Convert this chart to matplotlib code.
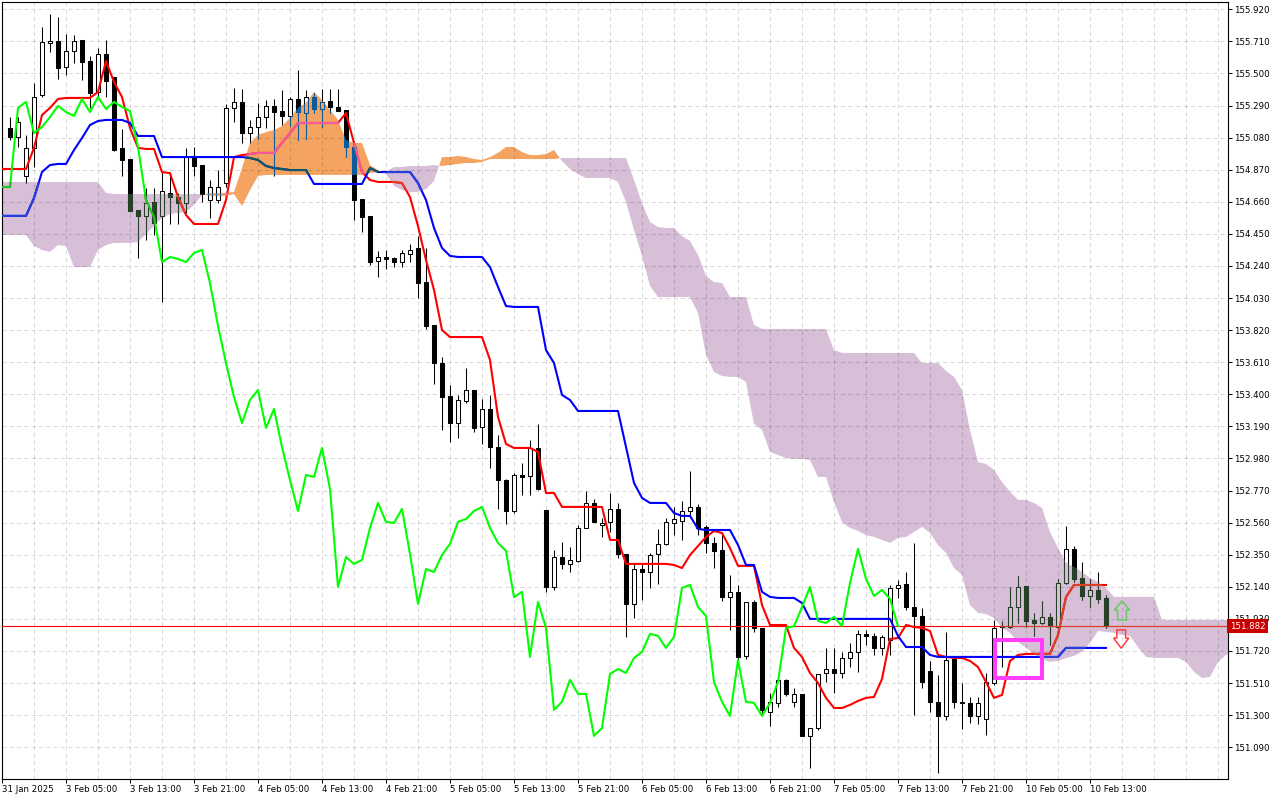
import numpy as np
import matplotlib
matplotlib.use("Agg")
import matplotlib.pyplot as plt
import matplotlib.colors as mcolors
from matplotlib.path import Path
from matplotlib.patches import Polygon, Rectangle
from matplotlib.transforms import blended_transform_factory

# H1 candles, bar 1 = 31 Jan 22:00 ... bar 138 = 10 Feb 15:00
open_ = [155.144, 155.084, 154.829, 155.013, 155.359, 155.699, 155.712, 155.542, 155.647, 155.719,
         155.581, 155.379, 155.628, 155.477, 155.013, 154.940, 154.607, 154.568, 154.659, 154.568,
         154.717, 154.691, 154.652, 154.960, 154.901, 154.672, 154.672, 154.783, 155.275, 155.314,
         155.110, 155.150, 155.215, 155.288, 155.254, 155.222, 155.333, 155.241, 155.346, 155.268,
         155.320, 155.281, 155.261, 155.019, 154.678, 154.568, 154.272, 154.299, 154.293, 154.266,
         154.319, 154.358, 154.135, 153.854, 153.605, 153.389, 153.212, 153.356, 153.428, 153.187,
         153.304, 153.055, 152.839, 152.636, 152.872, 152.865, 153.049, 152.643, 152.139, 152.335,
         152.290, 152.309, 152.526, 152.689, 152.545, 152.565, 152.650, 152.355, 152.028, 152.257,
         152.237, 152.355, 152.421, 152.558, 152.571, 152.636, 152.663, 152.532, 152.427, 152.381,
         152.073, 152.107, 151.688, 152.041, 151.871, 151.321, 151.380, 151.531, 151.387, 151.439,
         151.164, 151.216, 151.576, 151.602, 151.576, 151.674, 151.714, 151.832, 151.819, 151.740,
         151.792, 152.133, 152.159, 152.008, 151.949, 151.589, 151.387, 151.295, 151.668, 151.387,
         151.380, 151.295, 151.275, 151.511, 151.877, 151.877, 152.008, 152.146, 151.923, 151.903,
         151.943, 151.877, 152.165, 152.388, 152.198, 152.080, 152.120, 152.067]
high = [155.215, 155.215, 155.097, 155.437, 155.804, 155.890, 155.870, 155.759, 155.752, 155.719,
        155.615, 155.667, 155.719, 155.477, 155.137, 154.940, 154.607, 154.751, 154.751, 154.855,
        154.848, 154.717, 155.013, 155.019, 154.901, 154.803, 154.868, 155.301, 155.405, 155.398,
        155.196, 155.307, 155.327, 155.333, 155.392, 155.346, 155.523, 155.392, 155.372, 155.398,
        155.398, 155.398, 155.261, 155.019, 154.678, 154.568, 154.338, 154.345, 154.299, 154.345,
        154.384, 154.437, 154.358, 153.854, 153.644, 153.461, 153.395, 153.573, 153.428, 153.369,
        153.395, 153.134, 152.846, 152.885, 152.950, 153.101, 153.206, 152.643, 152.381, 152.434,
        152.401, 152.545, 152.767, 152.715, 152.591, 152.754, 152.689, 152.355, 152.296, 152.296,
        152.361, 152.519, 152.591, 152.663, 152.702, 152.898, 152.682, 152.545, 152.466, 152.499,
        152.218, 152.152, 152.041, 152.054, 151.871, 151.445, 151.531, 151.537, 151.478, 151.439,
        151.216, 151.570, 151.740, 151.740, 151.714, 151.773, 151.858, 151.858, 151.838, 151.825,
        152.152, 152.185, 152.237, 152.427, 152.002, 151.655, 151.563, 151.845, 151.668, 151.511,
        151.419, 151.419, 151.576, 151.923, 151.917, 152.139, 152.211, 152.146, 151.969, 152.047,
        151.969, 152.192, 152.538, 152.407, 152.303, 152.192, 152.237, 152.087]
low = [155.065, 155.019, 154.783, 154.888, 155.346, 155.641, 155.464, 155.490, 155.568, 155.457,
       155.275, 155.346, 155.346, 154.992, 154.829, 154.600, 154.293, 154.410, 154.443, 154.005,
       154.515, 154.515, 154.587, 154.829, 154.659, 154.555, 154.652, 154.757, 155.183, 155.045,
       155.045, 155.071, 155.144, 154.829, 155.163, 155.157, 155.065, 155.071, 155.241, 155.150,
       155.241, 155.254, 154.953, 154.541, 154.463, 154.246, 154.168, 154.220, 154.233, 154.233,
       154.266, 154.031, 153.828, 153.468, 153.167, 153.088, 153.115, 153.343, 153.154, 153.075,
       152.918, 152.650, 152.552, 152.623, 152.741, 152.741, 152.774, 152.107, 152.120, 152.257,
       152.237, 152.303, 152.526, 152.565, 152.466, 152.499, 152.329, 151.812, 151.937, 152.054,
       152.133, 152.159, 152.414, 152.479, 152.447, 152.597, 152.479, 152.361, 152.263, 152.047,
       151.858, 151.655, 151.668, 151.845, 151.301, 151.229, 151.354, 151.426, 151.354, 151.164,
       150.954, 151.203, 151.517, 151.446, 151.543, 151.615, 151.583, 151.760, 151.694, 151.694,
       151.694, 152.067, 151.989, 151.301, 151.478, 151.321, 150.922, 151.269, 151.347, 151.210,
       151.249, 151.242, 151.170, 151.498, 151.615, 151.871, 151.903, 151.877, 151.818, 151.897,
       151.759, 151.871, 152.159, 152.172, 152.054, 152.008, 152.034, 151.871]
close = [155.084, 155.183, 155.013, 155.346, 155.706, 155.712, 155.536, 155.647, 155.712, 155.575,
         155.372, 155.628, 155.450, 154.999, 154.934, 154.600, 154.568, 154.652, 154.521, 154.730,
         154.691, 154.652, 154.953, 154.895, 154.711, 154.757, 154.757, 155.275, 155.314, 155.110,
         155.150, 155.215, 155.288, 155.248, 155.222, 155.333, 155.248, 155.346, 155.268, 155.314,
         155.281, 155.254, 155.019, 154.672, 154.561, 154.266, 154.299, 154.286, 154.266, 154.325,
         154.345, 154.128, 153.848, 153.605, 153.382, 153.212, 153.363, 153.428, 153.180, 153.304,
         153.055, 152.839, 152.636, 152.872, 152.859, 153.049, 152.780, 152.139, 152.335, 152.290,
         152.316, 152.526, 152.689, 152.565, 152.558, 152.650, 152.355, 152.028, 152.257, 152.237,
         152.348, 152.421, 152.565, 152.584, 152.636, 152.663, 152.526, 152.427, 152.375, 152.073,
         152.107, 151.681, 152.041, 151.871, 151.334, 151.387, 151.531, 151.439, 151.439, 151.164,
         151.216, 151.570, 151.602, 151.576, 151.674, 151.714, 151.832, 151.819, 151.740, 151.812,
         152.133, 152.152, 152.008, 151.949, 151.517, 151.387, 151.295, 151.661, 151.387, 151.380,
         151.295, 151.380, 151.517, 151.871, 151.882, 152.008, 152.139, 151.917, 151.903, 151.943,
         151.884, 152.165, 152.388, 152.192, 152.080, 152.120, 152.061, 151.882]

# ichimoku lines, bar 0 .. 138
tenkan = ([154.875] * 4 + [155.013, 155.228, 155.275, 155.333] + [155.340] * 4
          + [155.379, 155.581, 155.444, 155.346, 155.144, 155.013, 155.006, 155.006, 154.855, 154.848,
             154.691, 154.574] + [154.515] * 4
          + [154.672, 154.953, 154.966, 154.973] + [154.980] * 3 + [155.045, 155.110] + [155.176] * 6
          + [155.241, 155.045, 154.855, 154.803] + [154.790] * 3
          + [154.783, 154.691, 154.502, 154.279, 154.083, 153.821] + [153.775] * 5
          + [153.625, 153.252, 153.075] + [153.049] * 3 + [153.023] + [152.754] * 2 + [152.663] * 6
          + [152.447] * 2 + [152.290] * 6
          + [152.283, 152.263, 152.348, 152.407, 152.466, 152.506, 152.492, 152.394] + [152.277] * 3
          + [152.021] + [151.890] * 3
          + [151.740, 151.681, 151.576, 151.511, 151.413, 151.347, 151.347, 151.367, 151.393, 151.413,
             151.419, 151.537, 151.799, 151.805, 151.890, 151.877, 151.871, 151.851, 151.694, 151.681,
             151.674, 151.674, 151.655, 151.615, 151.517, 151.413, 151.432, 151.655, 151.694]
          + [151.701] * 4 + [151.825, 152.073] + [152.152] * 5)
kijun = ([154.568] * 4 + [154.685, 154.855, 154.901, 154.908, 154.908, 154.999, 155.078, 155.163, 155.189]
         + [155.196] * 3 + [155.176] + [155.091] * 3 + [154.953] * 11
         + [154.947, 154.934, 154.895, 154.881, 154.875] + [154.868] * 3 + [154.777] * 7
         + [154.881] + [154.855] * 5 + [154.783, 154.672, 154.489, 154.358, 154.306] + [154.299] * 4
         + [154.233, 154.103, 153.978] + [153.972] * 4 + [153.690, 153.605, 153.396, 153.363]
         + [153.291] * 6 + [153.055, 152.820, 152.722] + [152.689] * 3 + [152.623] + [152.604] * 2
         + [152.519] + [152.512] * 4 + [152.414] + [152.283] * 2 + [152.107, 152.074] + [152.067] * 3
         + [152.034] + [151.930] * 11 + [151.818] + [151.746] * 3 + [151.694] + [151.681] * 16
         + [151.740] * 6)

# cloud, bar 0 .. 154 (shifted 26 bars ahead)
span_a = ([154.443] * 4 + [154.371, 154.345, 154.332, 154.377, 154.371] + [154.233] * 3
          + [154.345, 154.377] + [154.391] * 3
          + [154.397, 154.449, 154.502, 154.555, 154.580, 154.587, 154.593, 154.639, 154.705]
          + [154.718] * 3
          + [154.724, 154.881, 155.045, 155.097, 155.117, 155.130, 155.156, 155.209, 155.275, 155.307,
             155.379, 155.327, 155.261, 155.196, 155.065, 155.045, 155.045, 154.901, 154.868, 154.842,
             154.764, 154.737, 154.724, 154.724, 154.744, 154.796, 154.953, 154.953, 154.960, 154.953,
             154.940, 154.934, 154.953, 154.980, 155.019, 155.019, 154.986, 154.966, 154.966, 154.973,
             154.999, 154.927, 154.875, 154.842] + [154.816] * 4
          + [154.790, 154.659, 154.476, 154.306, 154.109] + [154.037] * 5
          + [153.932, 153.658, 153.546, 153.520, 153.514, 153.514, 153.481, 153.206, 153.167, 153.023,
             153.003, 152.983, 152.977, 152.977, 152.970, 152.859, 152.859, 152.695, 152.565, 152.525,
             152.506, 152.479, 152.466, 152.447, 152.427, 152.460, 152.466, 152.499, 152.532, 152.493,
             152.414, 152.362, 152.263, 152.218, 152.021, 151.969, 151.962, 151.936, 151.871, 151.838,
             151.779, 151.740, 151.701, 151.668, 151.648, 151.655, 151.674, 151.688, 151.714, 151.773,
             151.851, 151.845, 151.838, 151.825, 151.818, 151.746, 151.681] + [151.674] * 4
          + [151.648, 151.583, 151.543, 151.550, 151.648, 151.694, 151.714])
span_b = ([154.790] * 13 + [154.718] + [154.711] * 12 + [154.698] * 3
          + [154.711, 154.633, 154.737, 154.829] + [154.836] * 13
          + [154.849, 154.855, 154.855, 154.888, 154.888, 154.895, 154.895, 154.895, 154.901, 154.895,
             154.901, 154.908, 154.914, 154.914, 154.921] + [154.940] * 9 + [154.947] * 9
          + [154.803, 154.652, 154.528, 154.495, 154.489, 154.489, 154.436, 154.404, 154.312, 154.175,
             154.135, 154.129] + [154.037] * 3 + [153.854] + [153.828] * 9 + [153.690] + [153.671] * 10
          + [153.605] * 3
          + [153.553, 153.514, 153.428, 153.167, 152.957, 152.944, 152.905, 152.826, 152.761, 152.709,
             152.709, 152.689, 152.656, 152.499, 152.394, 152.296, 152.270, 152.237, 152.198, 152.172,
             152.133] + [152.074] * 6 + [151.923] * 10)

time_labels = ["31 Jan 2025", "3 Feb 05:00", "3 Feb 13:00", "3 Feb 21:00", "4 Feb 05:00",
               "4 Feb 13:00", "4 Feb 21:00", "5 Feb 05:00", "5 Feb 13:00", "5 Feb 21:00",
               "6 Feb 05:00", "6 Feb 13:00", "6 Feb 21:00", "7 Feb 05:00", "7 Feb 13:00",
               "7 Feb 21:00", "10 Feb 05:00", "10 Feb 13:00"]
price_ticks = [151.090 + 0.21 * k for k in range(24)]
last_price = 151.882

# marks drawn by hand on the chart
box_bars = (124.1, 130.05)
box_prices = (151.543, 151.792)
arrow_bar = 140.0
up_arrow = (151.923, 151.988, 152.047)     # bottom, head base, tip
down_arrow = (151.858, 151.805, 151.738)   # top, head base, tip

THISTLE = "#d8bfd8"
SANDY = "#f4a460"

o = np.array(open_)
h = np.array(high)
l = np.array(low)
c = np.array(close)
bars = np.arange(1, len(c) + 1)
line_x = np.arange(len(tenkan))
cloud_x = np.arange(len(span_a))
sa = np.array(span_a)
sb = np.array(span_b)


def xnor(col, bg):
    a = np.rint(np.array(mcolors.to_rgb(col)) * 255).astype(int)
    b = np.rint(np.array(mcolors.to_rgb(bg)) * 255).astype(int)
    return tuple((255 - (a ^ b)) / 255)


fig = plt.figure(figsize=(12.8, 8), dpi=100)
ax = fig.add_axes([2 / 1280, 21 / 800, 1226 / 1280, 777 / 800])
ax.set_xlim(0, 153.25)
ax.set_ylim(150.882, 155.968)

# cloud
up_cloud = ax.fill_between(cloud_x, sa, sb, where=sa >= sb, interpolate=True,
                           color=SANDY, lw=0, zorder=1)
dn_cloud = ax.fill_between(cloud_x, sa, sb, where=sb > sa, interpolate=True,
                           color=THISTLE, lw=0, zorder=1)


def draw_layer(paint, clip=None, z=3):
    arts = []
    up = c >= o
    arts.append(ax.vlines(bars, np.minimum(l, np.minimum(o, c)), np.maximum(h, np.maximum(o, c)),
                          colors=[paint("black")], lw=0.75, zorder=z))
    bottom = np.minimum(o, c)
    height = np.maximum(np.abs(c - o), 0.003)
    faces = [paint("white") if u else paint("black") for u in up]
    body = ax.bar(bars, height, 0.5, bottom=bottom, color=faces, edgecolor=paint("black"),
                  linewidth=0.75, zorder=z + 0.1)
    arts.extend(body.patches)
    arts.append(ax.axhline(last_price, color=paint("#ff0000"), lw=0.8, zorder=z + 0.2))
    arts += ax.plot(line_x, tenkan, color=paint("#ff0000"), lw=1.5, zorder=z + 0.3)
    arts += ax.plot(line_x, kijun, color=paint("#0000ff"), lw=1.5, zorder=z + 0.4)
    arts += ax.plot(bars[25:] - 26, c[25:], color=paint("#00ff00"), lw=1.5, zorder=z + 0.5)
    if clip is not None:
        for a in arts:
            a.set_clip_path(clip, ax.transData)


draw_layer(lambda col: col)
for cloud, col in [(up_cloud, SANDY), (dn_cloud, THISTLE)]:
    paths = cloud.get_paths()
    if paths:
        draw_layer(lambda cc, bg=col: xnor(cc, bg), Path.make_compound_path(*paths), z=6)

# magenta box and signal arrows
ax.add_patch(Rectangle((box_bars[0], box_prices[0]), box_bars[1] - box_bars[0],
                       box_prices[1] - box_prices[0], fill=False, ec="#ff3cff", lw=2.9, zorder=9))
xa = arrow_bar
ua = [(xa, up_arrow[2]), (xa + 0.95, up_arrow[1]), (xa + 0.55, up_arrow[1]), (xa + 0.55, up_arrow[0]),
      (xa - 0.55, up_arrow[0]), (xa - 0.55, up_arrow[1]), (xa - 0.95, up_arrow[1])]
ax.add_patch(Polygon(ua, closed=True, fill=False, ec="#5fcf5f", lw=1.1, zorder=9))
xd = arrow_bar - 0.1
da = [(xd - 0.55, down_arrow[0]), (xd + 0.55, down_arrow[0]), (xd + 0.55, down_arrow[1]),
      (xd + 0.95, down_arrow[1]), (xd, down_arrow[2]), (xd - 0.95, down_arrow[1]),
      (xd - 0.55, down_arrow[1])]
ax.add_patch(Polygon(da, closed=True, fill=False, ec="#ff4040", lw=1.1, zorder=9))

# axes, ticks, grid
ax.yaxis.tick_right()
ax.set_yticks(price_ticks)
ax.set_yticklabels([f"{v:.3f}" for v in price_ticks])
ax.set_xticks(np.arange(0, 8 * len(time_labels), 8))
ax.set_xticklabels(time_labels, ha="left")
ax.set_xticks(np.arange(4, 153, 4), minor=True)
ax.tick_params(which="minor", length=0)
ax.tick_params(which="major", length=3, width=0.75, direction="out", labelsize=6.2, pad=1.5,
               colors="black")
ax.set_axisbelow("line")
grid_kw = dict(color="black", alpha=0.15, lw=0.75, dashes=(4, 3))
ax.grid(True, which="both", axis="x", **grid_kw)
ax.grid(True, which="major", axis="y", **grid_kw)
for sp in ax.spines.values():
    sp.set_linewidth(0.8)
    sp.set_color("black")

trans = blended_transform_factory(ax.transAxes, ax.transData)
ax.text(1.0015, last_price, f"{last_price:.3f}", transform=trans, ha="left", va="center",
        fontsize=6.2, color="white", clip_on=False, zorder=20,
        bbox=dict(boxstyle="square,pad=0.28", fc="#c80000", ec="none"))

fig.savefig("out.png", dpi=100)
